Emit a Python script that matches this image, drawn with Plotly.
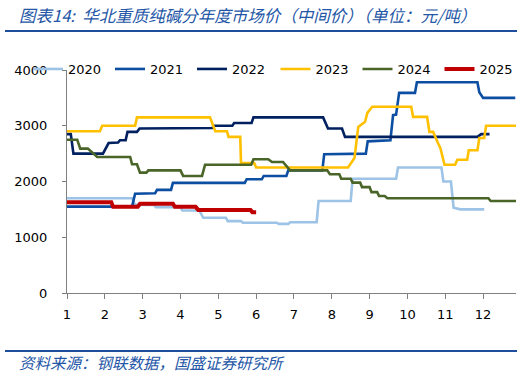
import plotly.graph_objects as go

# ---- data (month index, price 元/吨) ----
x2020 = [1, 2.72, 2.8, 3.3, 3.35, 4.0, 4.05, 4.5, 4.6, 5.2, 5.25, 5.6, 5.65, 6.55, 6.6, 6.85, 6.9,
         7.6, 7.65, 8.5, 8.55, 9.7, 9.75, 10.9, 10.95, 11.15, 11.22, 11.4, 12.03]
y2020 = [1700, 1700, 1580, 1580, 1540, 1540, 1480, 1480, 1350, 1350, 1290, 1290, 1260, 1260, 1240, 1240, 1270,
         1270, 1650, 1650, 2050, 2050, 2250, 2250, 2000, 2000, 1530, 1500, 1500]

x2021 = [1, 2.72, 2.8, 3.33, 3.38, 3.75, 3.8, 5.7, 5.75, 6.15, 6.2, 6.8, 6.85, 7.75, 7.8, 8.9,
         8.95, 9.55, 9.62, 9.7, 9.78, 10.2, 10.25, 11.85, 11.9, 12.0, 12.85]
y2021 = [1550, 1550, 1780, 1790, 1850, 1850, 1975, 1975, 2040, 2040, 2100, 2100, 2200, 2200, 2490, 2500,
         2720, 2740, 3190, 3200, 3590, 3590, 3780, 3780, 3600, 3500, 3500]

x2022 = [1, 1.1, 1.17, 1.95, 2.1, 2.35, 2.4, 2.55, 2.6, 2.85, 2.92, 4.84, 4.9, 5.37, 5.42, 5.88, 5.93,
         7.77, 7.9, 8.27, 8.35, 11.85, 11.95, 12.17]
y2022 = [2850, 2850, 2500, 2500, 2690, 2700, 2740, 2740, 2890, 2890, 2950, 2960, 3000, 3000, 3050, 3050, 3150,
         3150, 2950, 2950, 2800, 2800, 2850, 2850]

x2023 = [1, 1.87, 1.93, 2.8, 2.85, 4.78, 4.92, 5.23, 5.27, 5.58, 5.6, 5.95, 6.0, 8.43, 8.6, 8.7, 8.88,
         8.94, 9.07, 10.1, 10.15, 10.52, 10.58, 10.68, 10.8, 10.87, 10.98, 11.26, 11.32, 11.58, 11.62,
         11.85, 11.9, 12.03, 12.08, 12.88]
y2023 = [2900, 2900, 3000, 3000, 3150, 3150, 2900, 2900, 2800, 2800, 2330, 2330, 2250, 2250, 2420, 2980, 3070,
         3230, 3340, 3340, 3160, 3160, 2890, 2890, 2700, 2600, 2300, 2300, 2390, 2390, 2560,
         2560, 2780, 2780, 3000, 3000]

x2024 = [1, 1.27, 1.35, 1.55, 1.8, 2.67, 2.72, 2.85, 2.93, 3.1, 3.15, 4.0, 4.07, 4.57, 4.65, 5.87, 5.93,
         6.32, 6.42, 6.71, 6.9, 7.88, 7.95, 8.2, 8.25, 8.5, 8.55, 8.75, 8.8, 9.0, 9.05, 9.2, 9.25, 9.4,
         9.47, 12.14, 12.2, 12.87]
y2024 = [2750, 2750, 2590, 2590, 2440, 2440, 2310, 2310, 2160, 2160, 2200, 2200, 2100, 2100, 2300, 2300, 2400,
         2400, 2350, 2350, 2200, 2200, 2130, 2130, 2050, 2050, 1980, 1980, 1900, 1900, 1810, 1810, 1740, 1740,
         1700, 1700, 1650, 1650]

x2025 = [1, 2.17, 2.22, 2.87, 2.93, 3.8, 3.85, 4.4, 4.47, 5.85, 5.9, 6.0]
y2025 = [1630, 1630, 1545, 1545, 1600, 1600, 1545, 1545, 1490, 1490, 1450, 1450]

series_names = ["2020", "2021", "2022", "2023", "2024", "2025"]
series_x = [x2020, x2021, x2022, x2023, x2024, x2025]
series_y = [y2020, y2021, y2022, y2023, y2024, y2025]
colors = ["#9DC3E6", "#0B4EA2", "#002060", "#FFC000", "#4A6528", "#C00000"]
widths = [2.6, 2.6, 2.6, 2.6, 2.6, 4]
legend_groups = ["legend", "legend", "legend", "legend2", "legend2", "legend2"]

x_ticks = list(range(1, 13))
y_ticks = [0, 1000, 2000, 3000, 4000]

title_text = "图表14:  华北重质纯碱分年度市场价（中间价）（单位：元/吨）"
source_text = "资料来源：钢联数据，国盛证券研究所"

# ---- figure ----
W, H = 532, 375
L, R, T, B = 67, 16, 70, 82
ph = H - T - B
pw = W - L - R

def py(pix):
    return (H - B - pix) / ph

def px(pix):
    return (pix - L) / pw

fig = go.Figure()
for n, xs, ys, c, w, lg in zip(series_names, series_x, series_y, colors, widths, legend_groups):
    fig.add_trace(go.Scatter(x=xs, y=ys, mode="lines", name=n, legend=lg,
                             line=dict(color=c, width=w)))

tick_font = dict(family="DejaVu Sans", size=13, color="#000000")
legend_common = dict(orientation="h", xref="container", xanchor="left",
                     yref="container", y=1 - 69 / H, yanchor="middle",
                     entrywidth=37, entrywidthmode="pixels",
                     bgcolor="rgba(0,0,0,0)", font=tick_font)
fig.update_layout(
    width=W, height=H,
    margin=dict(l=L, r=R, t=T, b=B, autoexpand=False),
    paper_bgcolor="white", plot_bgcolor="white",
    showlegend=True,
    legend=dict(x=28 / W, **legend_common),
    legend2=dict(x=(28 + 3 * 82.5) / W, **legend_common),
    xaxis=dict(range=[1, 12.87], tickmode="array", tickvals=x_ticks,
               ticktext=[str(v) for v in x_ticks],
               showgrid=False, zeroline=False, showline=True, linecolor="#808080",
               linewidth=1, ticks="outside", ticklen=5, tickcolor="#808080",
               tickfont=tick_font, ticklabelstandoff=4),
    yaxis=dict(range=[0, 4000], tickmode="array", tickvals=y_ticks,
               showgrid=False, zeroline=False, showline=True, linecolor="#808080",
               linewidth=1, ticks="outside", ticklen=4, tickcolor="#808080",
               tickfont=tick_font, ticklabelstandoff=12),
)

blue = "#1F4E9C"
fig.add_shape(type="line", xref="paper", yref="paper", x0=px(5), x1=px(517),
              y0=py(31), y1=py(31), line=dict(color=blue, width=2.2))
fig.add_shape(type="line", xref="paper", yref="paper", x0=px(5), x1=px(517),
              y0=py(351), y1=py(351), line=dict(color=blue, width=2.2))

fig.add_annotation(text=title_text, xref="paper", yref="paper", x=px(17), y=py(15),
                   xanchor="left", yanchor="middle", showarrow=False,
                   font=dict(family="Noto Sans CJK SC", size=16.5, color="#2356A6", style="italic"))
fig.add_annotation(text=source_text, xref="paper", yref="paper", x=px(17), y=py(362),
                   xanchor="left", yanchor="middle", showarrow=False,
                   font=dict(family="Noto Sans CJK SC", size=15.5, color="#2356A6", style="italic"))

fig.write_html("out.html")
